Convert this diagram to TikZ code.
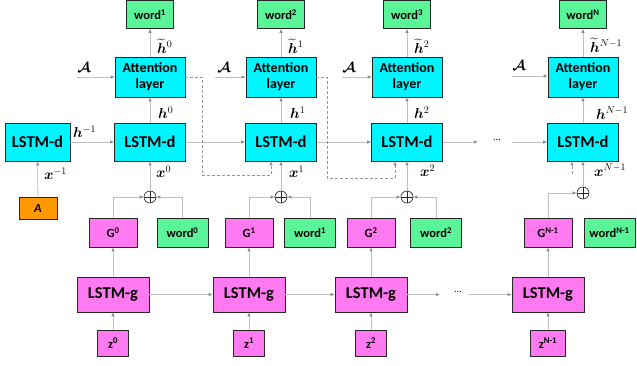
\documentclass[tikz,border=0pt]{standalone}
\usepackage{amsmath,bm}
\usepackage{fontspec}
\setmainfont{Carlito}
\usetikzlibrary{arrows.meta}
\definecolor{cy}{RGB}{0,245,255}
\definecolor{gr}{RGB}{90,245,152}
\definecolor{mg}{RGB}{255,122,240}
\definecolor{og}{RGB}{255,153,0}
\definecolor{ln}{RGB}{192,192,192}
\definecolor{tipc}{RGB}{140,140,140}
\definecolor{dsh}{RGB}{150,150,150}
\begin{document}
\begin{tikzpicture}[x=1pt,y=-1pt,
  box/.style={draw=black!85, line width=0.7pt, inner sep=0pt, align=center, font=\bfseries},
  attbox/.style={box, fill=cy, minimum width=70pt, minimum height=40pt, font=\bfseries\fontsize{14}{16}\selectfont},
  dbox/.style={box, fill=cy, minimum width=71pt, minimum height=38pt, font=\bfseries\fontsize{16.5}{18}\selectfont},
  gbox/.style={box, fill=mg, minimum width=72pt, minimum height=35pt, font=\bfseries\fontsize{16.5}{18}\selectfont},
  wtop/.style={box, fill=gr, minimum width=47pt, minimum height=28pt, font=\bfseries\fontsize{12.5}{14}\selectfont},
  wbot/.style={box, fill=gr, minimum width=51pt, minimum height=29pt, font=\bfseries\fontsize{12.5}{14}\selectfont},
  Gb/.style={box, fill=mg, minimum width=48pt, minimum height=29pt, font=\bfseries\fontsize{12.5}{14}\selectfont},
  zb/.style={box, fill=mg, minimum width=31pt, minimum height=26pt, font=\bfseries\fontsize{12.5}{14}\selectfont},
  opl/.style={circle, draw=black!85, line width=0.6pt, minimum size=12pt, inner sep=0pt,
    path picture={\draw[black!85, line width=0.6pt] (path picture bounding box.north) -- (path picture bounding box.south)
      (path picture bounding box.west) -- (path picture bounding box.east);}},
  lab/.style={inner sep=0pt, font=\fontsize{14}{16}\selectfont},
  arr/.style={draw=ln, line width=0.8pt, -{Latex[length=4pt,width=3.5pt,color=tipc]}},
  dasharr/.style={draw=dsh, line width=0.7pt, dash pattern=on 3pt off 2pt, -{Latex[length=4pt,width=3.5pt,color=tipc]}},
  plain/.style={draw=ln, line width=0.8pt}
]
\fill[white] (0,0) rectangle (637,366);
\useasboundingbox (0,0) rectangle (637,366);

% top words
\node[wtop] (w1) at (150,14.5) {word\textsuperscript{1}};
\node[wtop] (w2) at (281,14.5) {word\textsuperscript{2}};
\node[wtop] (w3) at (407,14.5) {word\textsuperscript{3}};
\node[wtop] (wN) at (583,14.5) {word\textsuperscript{N}};

% attention layers
\node[attbox] (a1) at (150,77) {Attention\\layer};
\node[attbox] (a2) at (281,77) {Attention\\layer};
\node[attbox] (a3) at (407,77) {Attention\\layer};
\node[attbox] (aN) at (583,77) {Attention\\layer};

% LSTM-d
\node[dbox, minimum width=65pt] (d0) at (37.5,142) {LSTM-d};
\node[dbox] (d1) at (150,142) {LSTM-d};
\node[dbox] (d2) at (281,142) {LSTM-d};
\node[dbox] (d3) at (407,142) {LSTM-d};
\node[dbox] (dN) at (583,142) {LSTM-d};

% A box
\node[box, fill=og, minimum width=38pt, minimum height=22pt, font=\bfseries\itshape\fontsize{12.5}{14}\selectfont] (Ab) at (38,208) {A};

% oplus
\node[opl] (o1) at (150,197) {};
\node[opl] (o2) at (281,197) {};
\node[opl] (o3) at (407,197) {};
\node[opl] (oN) at (583,193) {};

% G and word boxes
\node[Gb] (G0) at (113,232.5) {G\textsuperscript{0}};
\node[Gb] (G1) at (249,232.5) {G\textsuperscript{1}};
\node[Gb] (G2) at (371,232.5) {G\textsuperscript{2}};
\node[Gb] (GN) at (548,232.5) {G\textsuperscript{N-1}};
\node[wbot] (b0) at (182.5,232.5) {word\textsuperscript{0}};
\node[wbot] (b1) at (310,232.5) {word\textsuperscript{1}};
\node[wbot] (b2) at (436,232.5) {word\textsuperscript{2}};
\node[wbot] (bN) at (609.5,232.5) {word\textsuperscript{N-1}};

% LSTM-g
\node[gbox] (g0) at (113,294.5) {LSTM-g};
\node[gbox] (g1) at (249,294.5) {LSTM-g};
\node[gbox] (g2) at (371,294.5) {LSTM-g};
\node[gbox] (gN) at (548,294.5) {LSTM-g};

% z
\node[zb] (z0) at (113,343) {z\textsuperscript{0}};
\node[zb] (z1) at (249,343) {z\textsuperscript{1}};
\node[zb] (z2) at (371,343) {z\textsuperscript{2}};
\node[zb, minimum width=35pt] (zN) at (548,343) {z\textsuperscript{N-1}};

% labels
\node[lab, anchor=west] (lht0) at (157,46) {$\widetilde{\bm h}^{0}$};
\node[lab, anchor=west] (lht1) at (288,46) {$\widetilde{\bm h}^{1}$};
\node[lab, anchor=west] (lht2) at (414,46) {$\widetilde{\bm h}^{2}$};
\node[lab, anchor=west] (lhtN) at (590,45) {$\widetilde{\bm h}^{N-1}$};
\node[lab, anchor=west] (lh0) at (158,113) {$\bm h^{0}$};
\node[lab, anchor=west] (lh1) at (290,113) {$\bm h^{1}$};
\node[lab, anchor=west] (lh2) at (414,113) {$\bm h^{2}$};
\node[lab, anchor=west] (lhN) at (596,113) {$\bm h^{N-1}$};
\node[lab, anchor=west] (lhm) at (73,132) {$\bm h^{-1}$};
\node[lab, anchor=west] (lxm) at (44,174) {$\bm x^{-1}$};
\node[lab, anchor=west] (lx0) at (156,172) {$\bm x^{0}$};
\node[lab, anchor=west] (lx1) at (289,172) {$\bm x^{1}$};
\node[lab, anchor=west] (lx2) at (420,171) {$\bm x^{2}$};
\node[lab, anchor=west] (lxN) at (594,170) {$\bm x^{N-1}$};
\node[lab] (la1) at (84,68) {$\bm{\mathcal{A}}$};
\node[lab] (la2) at (224,68) {$\bm{\mathcal{A}}$};
\node[lab] (la3) at (349,68) {$\bm{\mathcal{A}}$};
\node[lab] (laN) at (519,66) {$\bm{\mathcal{A}}$};
\node[lab, font=\fontsize{10}{12}\selectfont] (dd) at (497,140) {...};
\node[lab, font=\fontsize{10}{12}\selectfont] (dg) at (458,292) {...};

% coordinates
\coordinate (ai1) at (77,77);
\coordinate (ai2) at (215,77);
\coordinate (ai3) at (342,77);
\coordinate (aiN) at (512,76);
\coordinate (de1) at (478,142);
\coordinate (ds1) at (512,142);
\coordinate (ge1) at (440,294.5);
\coordinate (gs1) at (468,294.5);
\coordinate (k1) at (202,175);
\coordinate (k2) at (327,178);
\coordinate (kN) at (572,174);

% attention -> word, LSTM-d -> attention
\foreach \i in {1,2,3,N}{
  \draw[arr] (a\i) -- (w\i);
  \draw[arr] (d\i) -- (a\i);
  \draw[arr] (ai\i) -- (a\i.west |- ai\i);
  \draw[arr] (o\i) -- (d\i);
}
% LSTM-d chain
\draw[arr] (d0) -- (d1);
\draw[arr] (d1) -- (d2);
\draw[arr] (d2) -- (d3);
\draw[arr] (d3) -- (de1);
\draw[arr] (ds1) -- (dN);
\draw[arr] (Ab) -- (d0);

% into oplus
\draw[arr] (G0.north) |- (o1.west);
\draw[arr] (b0.north) |- (o1.east);
\draw[arr] (G1.north) |- (o2.west);
\draw[arr] (b1.north) |- (o2.east);
\draw[arr] (G2.north) |- (o3.west);
\draw[arr] (b2.north) |- (o3.east);
\draw[arr] (GN.north) |- (oN.west);

% generator
\foreach \i in {0,1,2,N}{
  \draw[arr] (g\i) -- (G\i);
  \draw[arr] (z\i) -- (g\i);
}
\draw[arr] (g0) -- (g1);
\draw[arr] (g1) -- (g2);
\draw[arr] (g2) -- (ge1);
\draw[arr] (gs1) -- (gN);

% dashed feedback
\draw[dasharr] (a1.east) -| (k1) -| ([xshift=-10pt]d2.south);
\draw[dasharr] (a2.east) -| (k2) -| ([xshift=-12pt]d3.south);
\draw[dasharr] (kN) -- (kN |- dN.south);
\end{tikzpicture}
\end{document}
